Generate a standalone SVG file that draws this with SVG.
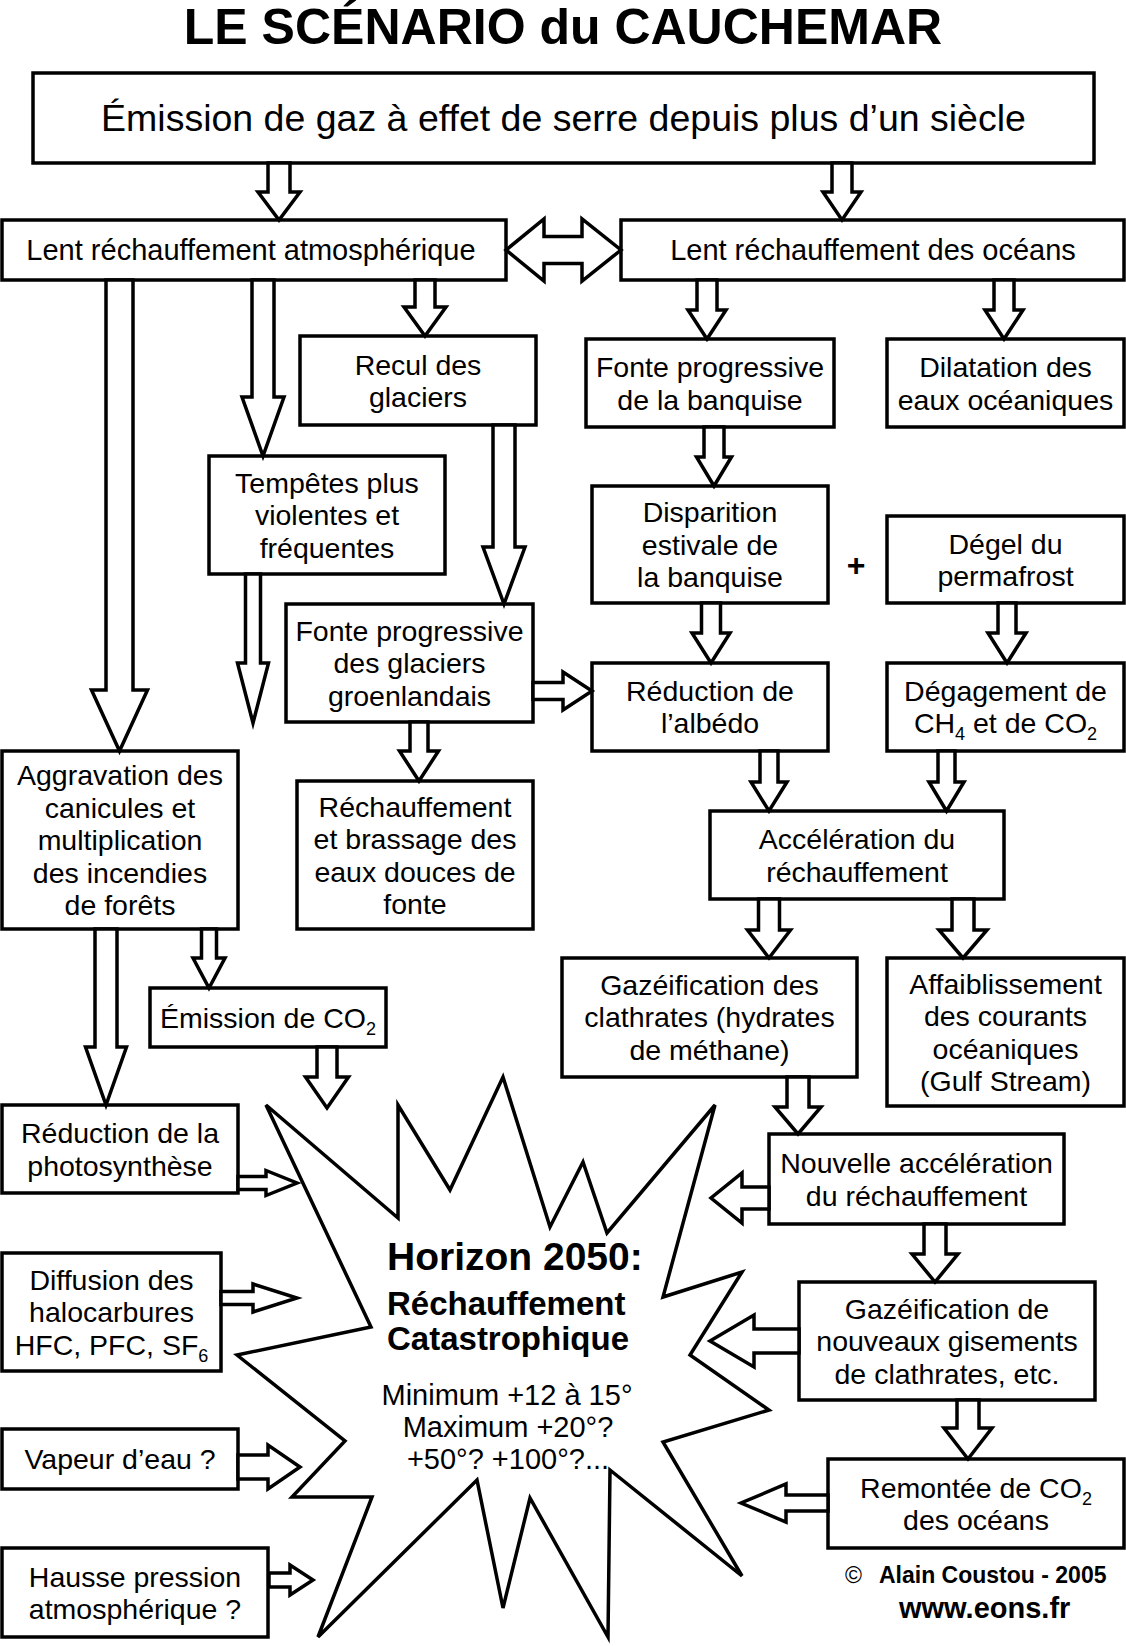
<svg xmlns="http://www.w3.org/2000/svg" width="1126" height="1646" viewBox="0 0 1126 1646">
<style>
.box{fill:#fff;stroke:#000;stroke-width:3.5}
.arr{fill:#fff;stroke:#000;stroke-width:3.5;stroke-linejoin:miter}
.star{fill:#fff;stroke:#000;stroke-width:3.5;stroke-linejoin:miter}
text{font-family:"Liberation Sans",Arial,Helvetica,sans-serif;fill:#000}
.t{font-size:28.5px;text-anchor:middle}
.sub{font-size:18px}
.b{font-weight:bold}
</style>
<rect width="1126" height="1646" fill="#fff"/>
<text x="563" y="44" class="b" style="font-size:50px;text-anchor:middle">LE SCÉNARIO du CAUCHEMAR</text>

<g id="starburst">
<polygon class="star" points="266,1105 398,1218 398,1105 450,1190 503,1077 550,1227 583,1162 607,1233 715,1105 663,1297 742,1272 690,1355 769,1410 663,1442 742,1576 610,1470 608,1637 530,1498 503,1608 477,1480 318,1637 372,1497 292,1497 345,1441 237,1355 371,1327"/>
<text x="387" y="1270" class="b" style="font-size:39px">Horizon 2050:</text>
<text x="387" y="1315" class="b" style="font-size:33px">Réchauffement</text>
<text x="387" y="1350" class="b" style="font-size:33px">Catastrophique</text>
<text class="t" x="507" y="1405" style="font-size:29px">Minimum +12 à 15°</text>
<text class="t" x="508" y="1437" style="font-size:29px">Maximum +20°?</text>
<text class="t" x="508" y="1469" style="font-size:29px">+50°? +100°?...</text>
</g>

<g id="n-emission">
<rect class="box" x="33" y="73" width="1061" height="90"/>
<text class="t" x="563.5" y="131" style="font-size:37.5px">Émission de gaz à effet de serre depuis plus d’un siècle</text>
</g>
<g id="n-atmos">
<rect class="box" x="2" y="220" width="504" height="60"/>
<text class="t" x="251" y="259.5" style="font-size:29px">Lent réchauffement atmosphérique</text>
</g>
<g id="n-oceans">
<rect class="box" x="621" y="220" width="503" height="60"/>
<text class="t" x="873" y="259.5" style="font-size:29px">Lent réchauffement des océans</text>
</g>
<g id="n-recul">
<rect class="box" x="300" y="336" width="236" height="89"/>
<text class="t" x="418" y="374.5">Recul des</text>
<text class="t" x="418" y="407">glaciers</text>
</g>
<g id="n-fonte-banquise">
<rect class="box" x="586" y="339" width="248" height="88"/>
<text class="t" x="710" y="377">Fonte progressive</text>
<text class="t" x="710" y="409.5">de la banquise</text>
</g>
<g id="n-dilatation">
<rect class="box" x="887" y="339" width="237" height="88"/>
<text class="t" x="1005.5" y="377">Dilatation des</text>
<text class="t" x="1005.5" y="409.5">eaux océaniques</text>
</g>
<g id="n-tempetes">
<rect class="box" x="209" y="456" width="236" height="118"/>
<text class="t" x="327" y="492.7">Tempêtes plus</text>
<text class="t" x="327" y="525.2">violentes et</text>
<text class="t" x="327" y="557.7">fréquentes</text>
</g>
<g id="n-disparition">
<rect class="box" x="592" y="486" width="236" height="117"/>
<text class="t" x="710" y="522.2">Disparition</text>
<text class="t" x="710" y="554.7">estivale de</text>
<text class="t" x="710" y="587.2">la banquise</text>
</g>
<text x="856" y="576" class="b" style="font-size:32px;text-anchor:middle">+</text>
<g id="n-degel">
<rect class="box" x="887" y="516" width="237" height="87"/>
<text class="t" x="1005.5" y="553.5">Dégel du</text>
<text class="t" x="1005.5" y="586">permafrost</text>
</g>
<g id="n-groenland">
<rect class="box" x="286" y="604" width="247" height="118"/>
<text class="t" x="409.5" y="640.7">Fonte progressive</text>
<text class="t" x="409.5" y="673.2">des glaciers</text>
<text class="t" x="409.5" y="705.7">groenlandais</text>
</g>
<g id="n-albedo">
<rect class="box" x="592" y="663" width="236" height="88"/>
<text class="t" x="710" y="700.9">Réduction de</text>
<text class="t" x="710" y="733.4">l’albédo</text>
</g>
<g id="n-degagement">
<rect class="box" x="887" y="663" width="237" height="88"/>
<text class="t" x="1005.5" y="700.9">Dégagement de</text>
<text class="t" x="1005.5" y="733.4">CH<tspan class="sub" dy="7">4</tspan><tspan dy="-7"> et de CO</tspan><tspan class="sub" dy="7">2</tspan></text>
</g>
<g id="n-aggravation">
<rect class="box" x="2" y="751" width="236" height="178"/>
<text class="t" x="120" y="785.2">Aggravation des</text>
<text class="t" x="120" y="817.7">canicules et</text>
<text class="t" x="120" y="850.2">multiplication</text>
<text class="t" x="120" y="882.7">des incendies</text>
<text class="t" x="120" y="915.2">de forêts</text>
</g>
<g id="n-brassage">
<rect class="box" x="297" y="781" width="236" height="148"/>
<text class="t" x="415" y="816.5">Réchauffement</text>
<text class="t" x="415" y="849">et brassage des</text>
<text class="t" x="415" y="881.5">eaux douces de</text>
<text class="t" x="415" y="914">fonte</text>
</g>
<g id="n-acceleration">
<rect class="box" x="710" y="811" width="294" height="88"/>
<text class="t" x="857" y="849">Accélération du</text>
<text class="t" x="857" y="881.5">réchauffement</text>
</g>
<g id="n-emission-co2">
<rect class="box" x="150" y="988" width="236" height="59"/>
<text class="t" x="268" y="1027.7">Émission de CO<tspan class="sub" dy="7">2</tspan></text>
</g>
<g id="n-clathrates">
<rect class="box" x="562" y="958" width="295" height="119"/>
<text class="t" x="709.5" y="994.9">Gazéification des</text>
<text class="t" x="709.5" y="1027.4">clathrates (hydrates</text>
<text class="t" x="709.5" y="1059.9">de méthane)</text>
</g>
<g id="n-courants">
<rect class="box" x="887" y="958" width="237" height="148"/>
<text class="t" x="1005.5" y="993.5">Affaiblissement</text>
<text class="t" x="1005.5" y="1026">des courants</text>
<text class="t" x="1005.5" y="1058.5">océaniques</text>
<text class="t" x="1005.5" y="1091">(Gulf Stream)</text>
</g>
<g id="n-photosynthese">
<rect class="box" x="2" y="1105" width="236" height="88"/>
<text class="t" x="120" y="1143">Réduction de la</text>
<text class="t" x="120" y="1175.5">photosynthèse</text>
</g>
<g id="n-nouvelle">
<rect class="box" x="769" y="1134" width="295" height="90"/>
<text class="t" x="916.5" y="1173">Nouvelle accélération</text>
<text class="t" x="916.5" y="1205.5">du réchauffement</text>
</g>
<g id="n-halocarbures">
<rect class="box" x="2" y="1253" width="219" height="118"/>
<text class="t" x="111.5" y="1289.7">Diffusion des</text>
<text class="t" x="111.5" y="1322.2">halocarbures</text>
<text class="t" x="111.5" y="1354.7">HFC, PFC, SF<tspan class="sub" dy="7">6</tspan></text>
</g>
<g id="n-gisements">
<rect class="box" x="799" y="1282" width="296" height="118"/>
<text class="t" x="947" y="1318.7">Gazéification de</text>
<text class="t" x="947" y="1351.2">nouveaux gisements</text>
<text class="t" x="947" y="1383.7">de clathrates, etc.</text>
</g>
<g id="n-vapeur">
<rect class="box" x="2" y="1429" width="236" height="60"/>
<text class="t" x="120" y="1469.2">Vapeur d’eau ?</text>
</g>
<g id="n-remontee">
<rect class="box" x="828" y="1459" width="296" height="89"/>
<text class="t" x="976" y="1497.5">Remontée de CO<tspan class="sub" dy="7">2</tspan></text>
<text class="t" x="976" y="1530">des océans</text>
</g>
<g id="n-pression">
<rect class="box" x="2" y="1548" width="266" height="89"/>
<text class="t" x="135" y="1586.5">Hausse pression</text>
<text class="t" x="135" y="1619">atmosphérique ?</text>
</g>

<g id="connectors">
<polygon class="arr" points="268,163 268,192 258,192 279,220 300,192 290,192 290,163"/>
<polygon class="arr" points="832,163 832,192 823,192 842,220 861,192 852,192 852,163"/>
<polygon class="arr" points="506,250 544,219 544,236.5 582,236.5 582,219 621,250 582,281 582,263.5 544,263.5 544,281"/>
<polygon class="arr" points="106,280 106,690 91.5,690 119.5,751 147.5,690 133,690 133,280"/>
<polygon class="arr" points="252,280 252,397 242,397 263,456 284,397 274,397 274,280"/>
<polygon class="arr" points="415,280 415,307 404,307 425,336 446,307 435,307 435,280"/>
<polygon class="arr" points="493,425 493,547 483,547 504,604 525,547 515,547 515,425"/>
<polygon class="arr" points="245.5,574 245.5,663 237.5,663 253,723 268.5,663 260.5,663 260.5,574"/>
<polygon class="arr" points="697,280 697,310 688,310 707,339 726,310 717,310 717,280"/>
<polygon class="arr" points="994,280 994,310 985,310 1004,339 1023,310 1014,310 1014,280"/>
<polygon class="arr" points="704,427 704,457 696.5,457 714,486 731.5,457 724,457 724,427"/>
<polygon class="arr" points="701.5,603 701.5,633 692,633 711,663 730,633 720.5,633 720.5,603"/>
<polygon class="arr" points="998,603 998,633 988,633 1007,663 1026,633 1016,633 1016,603"/>
<polygon class="arr" points="533,682.5 563,682.5 563,672 592,691 563,710 563,699.5 533,699.5"/>
<polygon class="arr" points="410,722 410,751 399.5,751 419,781 438.5,751 428,751 428,722"/>
<polygon class="arr" points="760,751 760,782 751,782 769,811 787,782 778,782 778,751"/>
<polygon class="arr" points="938,751 938,782 929,782 946.5,811 964,782 955,782 955,751"/>
<polygon class="arr" points="758.5,899 758.5,930 747.5,930 769,958 790.5,930 779.5,930 779.5,899"/>
<polygon class="arr" points="952,899 952,930 939,930 963,958 987,930 974,930 974,899"/>
<polygon class="arr" points="95,929 95,1047 85.5,1047 106,1105 126.5,1047 117,1047 117,929"/>
<polygon class="arr" points="201.5,929 201.5,958 193,958 209,988 225,958 216.5,958 216.5,929"/>
<polygon class="arr" points="317,1047 317,1077 305.5,1077 327,1108 348.5,1077 337,1077 337,1047"/>
<polygon class="arr" points="787,1077 787,1107 775,1107 798,1134 821,1107 809,1107 809,1077"/>
<polygon class="arr" points="924,1224 924,1254 912,1254 935,1282 958,1254 946,1254 946,1224"/>
<polygon class="arr" points="957,1400 957,1428 944,1428 968,1459 992,1428 979,1428 979,1400"/>
<polygon class="arr" points="769,1187 742,1187 742,1173 711,1198 742,1223 742,1209 769,1209"/>
<polygon class="arr" points="799,1329 754,1329 754,1315 710,1341 754,1367 754,1353 799,1353"/>
<polygon class="arr" points="828,1495 786,1495 786,1484 741,1503 786,1522 786,1511 828,1511"/>
<polygon class="arr" points="238,1176.5 266,1176.5 266,1170.5 297,1183 266,1195.5 266,1189.5 238,1189.5"/>
<polygon class="arr" points="221,1291.5 253,1291.5 253,1284 297,1298 253,1312 253,1304.5 221,1304.5"/>
<polygon class="arr" points="238,1455 268,1455 268,1445 300,1467 268,1489 268,1479 238,1479"/>
<polygon class="arr" points="269,1573 290,1573 290,1565 313,1580 290,1595 290,1587 269,1587"/>
</g>

<text x="845" y="1583" style="font-size:23px">©</text>
<text x="879" y="1583" class="b" style="font-size:23px">Alain Coustou - 2005</text>
<text x="899" y="1618" class="b" style="font-size:29px">www.eons.fr</text>
</svg>
